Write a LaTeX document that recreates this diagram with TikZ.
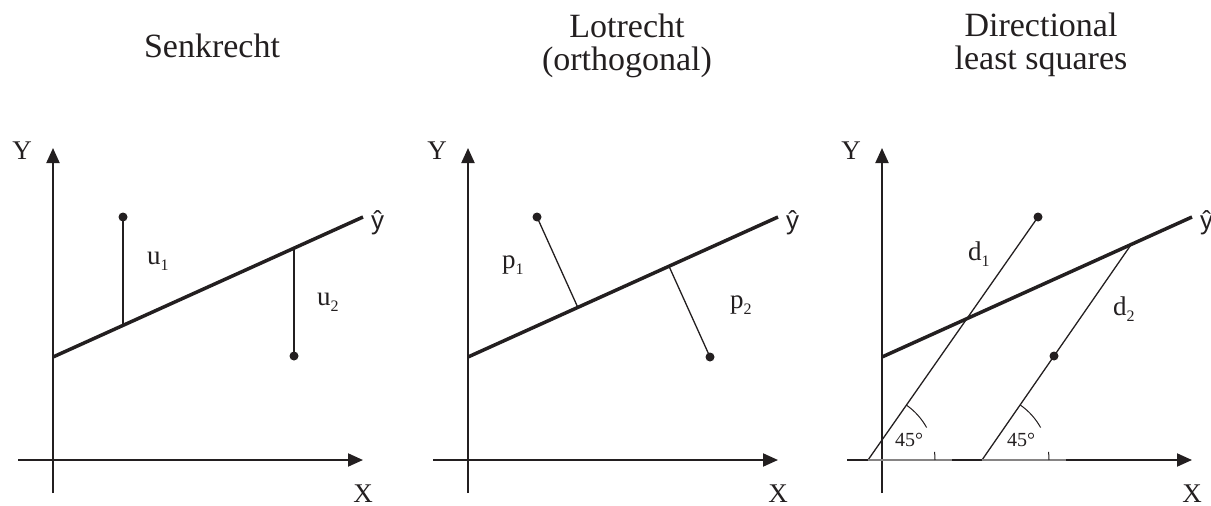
\documentclass[tikz,border=0pt]{standalone}
\usepackage{fontspec}
\setmainfont{Liberation Serif}
\setsansfont{Liberation Sans}
\usetikzlibrary{arrows.meta,calc}
\definecolor{ink}{HTML}{231F20}
\tikzset{
  axis/.style={ink, line width=2pt, -{Triangle[length=15pt, width=13pt]}},
  fit/.style={ink, line width=3.5pt},
  res/.style={ink, line width=1.3pt},
  angarc/.style={ink, line width=1pt},
  obs/.style={circle, fill=ink, inner sep=0pt, minimum size=9pt},
  lbl/.style={text=ink, inner sep=0pt, font=\fontsize{27}{27}\selectfont},
  hatlbl/.style={text=ink, inner sep=0pt, font=\sffamily\fontsize{26}{26}\selectfont},
  small/.style={text=ink, inner sep=0pt, font=\fontsize{20}{20}\selectfont},
  title/.style={text=ink, inner sep=0pt, align=center, font=\fontsize{34}{33}\selectfont},
}
\newcommand{\resid}[2]{#1\raisebox{-6pt}{\fontsize{16}{16}\selectfont #2}}
\newcommand{\axes}[1]{%
  \coordinate (#1xs) at (18,460); \coordinate (#1xe) at (363,460);
  \coordinate (#1ys) at (53,493); \coordinate (#1ye) at (53,148);
  \coordinate (#1r0) at (53,357); \coordinate (#1r1) at (363,217);
  \draw[axis] (#1xs) -- (#1xe);
  \draw[axis] (#1ys) -- (#1ye);
  \draw[fit] (#1r0) -- (#1r1);
  \node[lbl, anchor=base] (#1X) at (363,502) {X};
  \node[lbl] (#1Y) at (22,151) {Y};
  \node[hatlbl, anchor=base west] (#1yh) at (371,229) {\^{y}};}

\begin{document}
\begin{tikzpicture}[x=1pt, y=-1pt]
  \useasboundingbox (0,0) rectangle (1211,506);
  % Senkrecht: vertical residuals
  \begin{scope}
    \axes{a}
    \node[title, anchor=base] (ta) at (212,57) {Senkrecht};
    \node[obs] (aq1) at (123,217) {};
    \node[obs] (aq2) at (294,356) {};
    \coordinate (af1) at (123,325.4);
    \coordinate (af2) at (294,248.2);
    \draw[res, line width=1.7pt] (aq1.center) -- (af1);
    \draw[res, line width=1.7pt] (aq2.center) -- (af2);
    \node[lbl, anchor=base west] (au1) at (147,264) {\resid{u}{1}};
    \node[lbl, anchor=base west] (au2) at (317,305) {\resid{u}{2}};
  \end{scope}
  % Lotrecht: orthogonal residuals
  \begin{scope}[xshift=415pt]
    \axes{b}
    \node[title, anchor=base] (tb) at (212,70) {Lotrecht\\(orthogonal)};
    \node[obs] (bq1) at (122,217) {};
    \node[obs] (bq2) at (295,357) {};
    \coordinate (bf1) at ($(br0)!(bq1)!(br1)$);
    \coordinate (bf2) at ($(br0)!(bq2)!(br1)$);
    \draw[res] (bq1.center) -- (bf1);
    \draw[res] (bq2.center) -- (bf2);
    \node[lbl, anchor=base west] (bp1) at (87,268) {\resid{p}{1}};
    \node[lbl, anchor=base west] (bp2) at (315,308) {\resid{p}{2}};
  \end{scope}
  % Directional least squares: 45 degree residuals
  \begin{scope}[xshift=829pt]
    \axes{c}
    \node[title, anchor=base] (tc) at (212,69) {Directional\\least squares};
    \node[obs] (cq1) at (209,217) {};
    \node[obs] (cq2) at (225,356) {};
    \coordinate (cf1) at (39,460);
    \coordinate (cf2) at (153,460);
    \coordinate (ch2) at (intersection of cf2--cq2 and cr0--cr1);
    \draw[res] (cf1) -- (cq1.center);
    \draw[res] (cf2) -- (ch2);
    \foreach \f in {cf1,cf2}{
      \draw[ink!55, line width=1.5pt] (\f) -- ++(84,0);
      \draw[angarc] ($(\f)+(-55:67)$) arc[start angle=-55, end angle=-29, radius=67];
      \draw[angarc] ($(\f)+(-7:67)$) arc[start angle=-7, end angle=0, radius=67];}
    \node[small] (ca1) at (80,440) {45\textdegree};
    \node[small] (ca2) at (192,440) {45\textdegree};
    \node[lbl, anchor=base west] (cd1) at (139,260) {\resid{d}{1}};
    \node[lbl, anchor=base west] (cd2) at (284,315) {\resid{d}{2}};
  \end{scope}
\end{tikzpicture}
\end{document}
